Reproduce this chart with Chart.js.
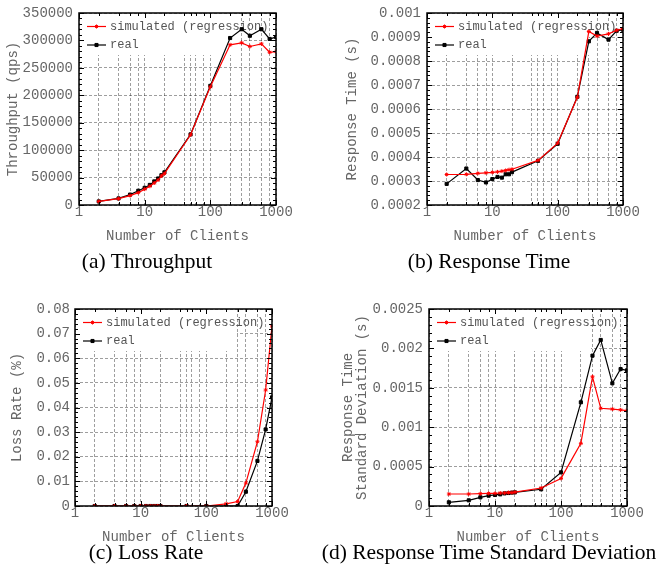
<!DOCTYPE html>
<html>
<head>
<meta charset="utf-8">
<script src="https://cdn.jsdelivr.net/npm/chart.js@4.4.1/dist/chart.umd.min.js"></script>
<style>
body { margin: 0; background: #fff; width: 659px; height: 575px; position: relative; overflow: hidden; }
canvas { position: absolute; }
.cap { position: absolute; width: 360px; text-align: center; font-family: "Liberation Serif", "Times New Roman", serif; font-size: 21.5px; line-height: 21px; color: #000; white-space: nowrap; }
</style>
</head>
<body>
<canvas id="tp" width="330" height="250" style="left:0px;top:0px"></canvas>
<canvas id="rt" width="329" height="250" style="left:330px;top:0px"></canvas>
<canvas id="loss" width="330" height="260" style="left:0px;top:290px"></canvas>
<canvas id="sd" width="329" height="260" style="left:330px;top:290px"></canvas>
<div class="cap" style="left:-33px;top:251px">(a) Throughput</div>
<div class="cap" style="left:309px;top:251px">(b) Response Time</div>
<div class="cap" style="left:-34px;top:542px">(c) Loss Rate</div>
<div class="cap" style="left:309px;top:542px">(d) Response Time Standard Deviation</div>
<script>
// x values (number of clients) shared by all four plots
const clients = [2, 4, 6, 8, 10, 12, 14, 16, 18, 20, 50, 100, 200, 300, 400, 600, 800, 1000];
const xGridValues = [1, 2, 4, 6, 8, 10, 20, 40, 50, 60, 80, 100, 200, 300, 400, 600, 800, 1000];
const xLabelValues = [1, 10, 100, 1000];
const seriesNames = ['simulated (regression)', 'real'];

// (a) throughput, qps
const throughputSim = [6500, 11500, 17200, 22500, 28900, 34200, 40100, 45500, 53000, 57200, 128000, 215400, 292000, 295600, 289000, 293800, 278400, 279600];
const throughputReal = [6500, 12000, 19000, 26000, 31300, 36600, 43000, 48300, 54300, 59600, 128700, 217200, 304400, 320400, 308500, 320400, 302700, 306200];
const throughputTicks = ['0', '50000', '100000', '150000', '200000', '250000', '300000', '350000'];

// (b) response time, s
const respSim = [0.000327, 0.000328, 0.000332, 0.000334, 0.000336, 0.000338, 0.000341, 0.000344, 0.000347, 0.000349, 0.000386, 0.000458, 0.000649, 0.000923, 0.000904, 0.000913, 0.000928, 0.000935];
const respReal = [0.000288, 0.000352, 0.000304, 0.000294, 0.000308, 0.000317, 0.000314, 0.000328, 0.000328, 0.000337, 0.000384, 0.000455, 0.000651, 0.000882, 0.000917, 0.000889, 0.000926, 0.00093];
const respTicks = ['0.0002', '0.0003', '0.0004', '0.0005', '0.0006', '0.0007', '0.0008', '0.0009', '0.001'];

// (c) loss rate, %
const lossSim = [0, 0, 0, 0, 0, 0, 0, 0, 0, 0, 0, 0, 0.0009, 0.0018, 0.0093, 0.0261, 0.0471, 0.0731];
const lossReal = [0, 0, 0, 0, 0, 0, 0, 0, 0, 0, 0, 0, 0, 0, 0.0058, 0.0183, 0.0311, 0.0441];
const lossTicks = ['0', '0.01', '0.02', '0.03', '0.04', '0.05', '0.06', '0.07', '0.08'];

// (d) response time standard deviation, s
const sdSim = [0.000152, 0.000152, 0.000156, 0.00016, 0.00016, 0.000165, 0.000165, 0.00017, 0.00017, 0.000175, 0.000228, 0.00035, 0.000795, 0.00164, 0.00124, 0.00123, 0.00122, 0.00121];
const sdReal = [0.000047, 0.000072, 0.00011, 0.000131, 0.00014, 0.000148, 0.00016, 0.000165, 0.00017, 0.000173, 0.000212, 0.000427, 0.001316, 0.001908, 0.002107, 0.001557, 0.001738, 0.001722];
const sdTicks = ['0', '0.0005', '0.001', '0.0015', '0.002', '0.0025'];

const mono = "'Liberation Mono', 'DejaVu Sans Mono', monospace";
const textColor = '#666';
const gridColor = 'rgba(0,0,0,0.38)';

function toPoints(values) {
    return clients.map((c, i) => ({ x: c, y: values[i] }));
}

// gnuplot-like frame, inward tick marks and opaque key box
function gnuplotLook(yTicks, ySubdiv) {
    return {
        id: 'gnuplotLook',
        beforeDatasetsDraw(chart) {
            const { ctx, chartArea: a } = chart;
            ctx.save();
            ctx.fillStyle = '#fff';
            ctx.fillRect(a.left + 1, a.top + 1, 161, 41);
            const rows = [
                { color: '#ff0000', style: 'star', y: a.top + 13.5 },
                { color: '#000', style: 'rect', y: a.top + 32 }
            ];
            rows.forEach((row, i) => {
                ctx.strokeStyle = row.color;
                ctx.fillStyle = row.color;
                ctx.lineWidth = 1.2;
                ctx.beginPath();
                ctx.moveTo(a.left + 8, row.y);
                ctx.lineTo(a.left + 27, row.y);
                ctx.stroke();
                ctx.lineWidth = 1;
                Chart.helpers.drawPoint(ctx, { pointStyle: row.style, radius: row.style === 'rect' ? 2.2 : 2, rotation: 0, borderWidth: 1 }, a.left + 17.5, row.y);
                ctx.fillStyle = '#555';
                ctx.font = '12px ' + mono;
                ctx.textBaseline = 'middle';
                ctx.textAlign = 'left';
                ctx.fillText(seriesNames[i], a.left + 31, row.y);
            });
            ctx.restore();
        },
        afterDraw(chart) {
            const { ctx, chartArea: a, scales } = chart;
            ctx.save();
            ctx.strokeStyle = '#000';
            ctx.lineWidth = 1;
            ctx.beginPath();
            xGridValues.forEach(v => {
                const px = Math.round(scales.x.getPixelForValue(v)) + 0.5;
                const len = xLabelValues.includes(v) ? 5 : 3;
                ctx.moveTo(px, a.bottom); ctx.lineTo(px, a.bottom - len);
                ctx.moveTo(px, a.top); ctx.lineTo(px, a.top + len);
            });
            const vals = yTicks.map(parseFloat);
            for (let i = 0; i < vals.length; i++) {
                const py = Math.round(scales.y.getPixelForValue(vals[i])) + 0.5;
                ctx.moveTo(a.left, py); ctx.lineTo(a.left + 5, py);
                ctx.moveTo(a.right, py); ctx.lineTo(a.right - 5, py);
                if (i < vals.length - 1) {
                    for (let k = 1; k < ySubdiv; k++) {
                        const v = vals[i] + (vals[i + 1] - vals[i]) * k / ySubdiv;
                        const pm = Math.round(scales.y.getPixelForValue(v)) + 0.5;
                        ctx.moveTo(a.left, pm); ctx.lineTo(a.left + 3, pm);
                        ctx.moveTo(a.right, pm); ctx.lineTo(a.right - 3, pm);
                    }
                }
            }
            ctx.stroke();
            ctx.lineWidth = 1.5;
            ctx.strokeRect(a.left, a.top, a.right - a.left, a.bottom - a.top);
            ctx.restore();
        }
    };
}

function makePanel(p) {
    const canvas = document.getElementById(p.id);
    const font = { family: mono, size: 14, lineHeight: 1 };
    new Chart(canvas, {
        type: 'line',
        data: {
            datasets: [
                {
                    label: seriesNames[0],
                    data: toPoints(p.sim),
                    borderColor: '#ff0000',
                    backgroundColor: '#ff0000',
                    borderWidth: 1.2,
                    pointStyle: 'star',
                    pointRadius: 2,
                    pointBorderWidth: 1,
                    tension: 0
                },
                {
                    label: seriesNames[1],
                    data: toPoints(p.real),
                    borderColor: '#000',
                    backgroundColor: '#000',
                    borderWidth: 1.2,
                    pointStyle: 'rect',
                    pointRadius: 2.2,
                    pointBorderWidth: 1,
                    tension: 0
                }
            ]
        },
        options: {
            responsive: false,
            animation: false,
            devicePixelRatio: 1,
            layout: { padding: { left: 0, top: p.area.t, right: canvas.width - p.area.r, bottom: 0 } },
            plugins: { legend: { display: false }, tooltip: { enabled: false } },
            scales: {
                x: {
                    type: 'logarithmic',
                    min: 1,
                    max: 1000,
                    afterFit: s => { s.height = canvas.height - p.area.b; },
                    afterBuildTicks: s => { s.ticks = xGridValues.map(v => ({ value: v })); },
                    ticks: {
                        autoSkip: false,
                        maxRotation: 0,
                        padding: 0,
                        color: textColor,
                        font: font,
                        callback: v => xLabelValues.includes(v) ? String(v) : ''
                    },
                    grid: { color: gridColor, lineWidth: 1, drawTicks: false },
                    border: { display: false, dash: [3, 2] },
                    title: {
                        display: true,
                        text: 'Number of Clients',
                        color: textColor,
                        font: font,
                        padding: { top: 0, bottom: p.xTitlePad }
                    }
                },
                y: {
                    type: 'linear',
                    min: parseFloat(p.yTicks[0]),
                    max: parseFloat(p.yTicks[p.yTicks.length - 1]),
                    afterFit: s => { s.width = p.area.l; },
                    afterBuildTicks: s => { s.ticks = p.yTicks.map(t => ({ value: parseFloat(t) })); },
                    ticks: {
                        padding: p.yLabelPad,
                        color: textColor,
                        font: font,
                        callback: (v, i) => p.yTicks[i]
                    },
                    grid: { color: gridColor, lineWidth: 1, drawTicks: false },
                    border: { display: false, dash: [3, 2] },
                    title: {
                        display: true,
                        text: p.yTitle,
                        color: textColor,
                        font: font,
                        padding: { top: p.yTitlePad, bottom: 0 }
                    }
                }
            }
        },
        plugins: [gnuplotLook(p.yTicks, p.ySubdiv)]
    });
}

makePanel({
    id: 'tp', area: { l: 79, t: 7, r: 276, b: 205 },
    sim: throughputSim, real: throughputReal, yTicks: throughputTicks, ySubdiv: 5,
    yTitle: 'Throughput (qps)', yTitlePad: 6, yLabelPad: 6, xTitlePad: 7
});
makePanel({
    id: 'rt', area: { l: 97, t: 7, r: 293, b: 205 },
    sim: respSim, real: respReal, yTicks: respTicks, ySubdiv: 5,
    yTitle: 'Response Time (s)', yTitlePad: 15, yLabelPad: 6, xTitlePad: 7
});
makePanel({
    id: 'loss', area: { l: 75, t: 19, r: 272, b: 216 },
    sim: lossSim, real: lossReal, yTicks: lossTicks, ySubdiv: 5,
    yTitle: 'Loss Rate (%)', yTitlePad: 10, yLabelPad: 5, xTitlePad: 6
});
makePanel({
    id: 'sd', area: { l: 99, t: 19, r: 297, b: 216 },
    sim: sdSim, real: sdReal, yTicks: sdTicks, ySubdiv: 5,
    yTitle: ['Response Time', 'Standard Deviation (s)'], yTitlePad: 11, yLabelPad: 6, xTitlePad: 6
});
</script>
</body>
</html>
